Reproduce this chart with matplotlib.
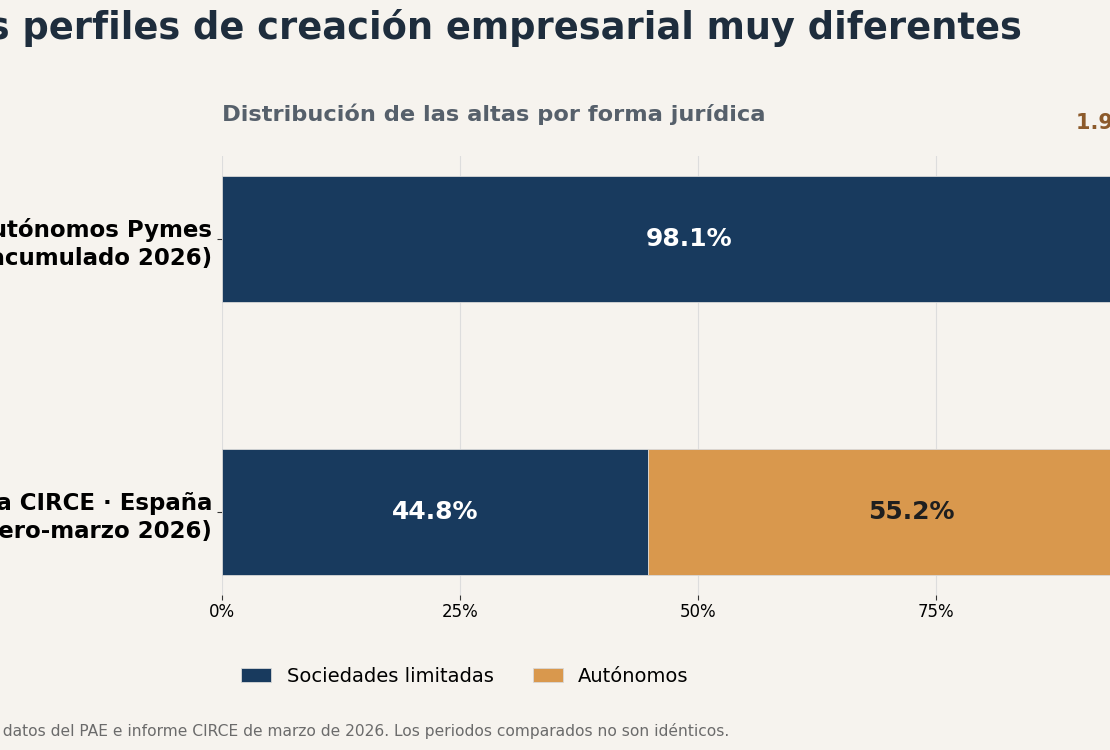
import matplotlib
matplotlib.use("Agg")
import matplotlib.pyplot as plt
import numpy as np

# --- DATOS ---
categorias = ["Autónomos Pymes\n(acumulado 2026)", "Muestra CIRCE · España\n(enero-marzo 2026)"]
sociedades = [98.1, 44.8]
autonomos = [1.9, 55.2]
ticks_x = [0, 25, 50, 75, 100]

BG = "#F6F3EE"
NAVY = "#183A5E"
ORANGE = "#D9984D"

fig = plt.figure(figsize=(11.1, 7.5), dpi=100, facecolor=BG)
ax = fig.add_axes([222 / 1110, 1 - 595 / 750, 952 / 1110, 439 / 750])
ax.set_facecolor(BG)

y = np.arange(len(categorias))
b1 = ax.barh(y, sociedades, height=0.46, color=NAVY, edgecolor="#d8d8d8",
             linewidth=0.6, label="Sociedades limitadas")
b2 = ax.barh(y, autonomos, left=sociedades, height=0.46, color=ORANGE,
             edgecolor="#d8d8d8", linewidth=0.6, label="Autónomos")
ax.invert_yaxis()
ax.set_xlim(0, 100)

# etiquetas dentro de las barras
for i in range(len(categorias)):
    ax.text(sociedades[i] / 2, y[i], f"{sociedades[i]:.1f}%", ha="center", va="center",
            color="white", fontsize=18, fontweight="bold")
    if autonomos[i] > 5:
        ax.text(sociedades[i] + autonomos[i] / 2, y[i], f"{autonomos[i]:.1f}%",
                ha="center", va="center", color="#1f1f1f", fontsize=18, fontweight="bold")
    else:
        # segmento demasiado estrecho: etiqueta encima de la barra
        ax.text(sociedades[i] + autonomos[i], y[i] - 0.425, f"{autonomos[i]:.1f}% autónomos",
                ha="center", va="center", color="#8C5A2B", fontsize=15,
                fontweight="bold", clip_on=False)

ax.set_yticks(y)
ax.set_yticklabels(categorias, fontsize=16.5, fontweight="bold", linespacing=1.27)
ax.set_xticks(ticks_x)
ax.set_xticklabels([f"{t}%" for t in ticks_x], fontsize=12)
ax.grid(axis="x", color="#dddddd", linewidth=0.8)
ax.set_axisbelow(True)
for s in ax.spines.values():
    s.set_visible(False)
ax.tick_params(colors="#333333", labelcolor="black")
ax.tick_params(axis="x", pad=2.5)

fig.text(1022 / 1110, 1 - 28 / 750, "Dos perfiles de creación empresarial muy diferentes",
         ha="right", va="center", fontsize=26.5, fontweight="bold", color="#1E2D3D")
ax.set_title("Distribución de las altas por forma jurídica", loc="left", fontsize=16.2,
             fontweight="bold", color="#56606B", pad=25)

fig.legend(handles=[b1, b2], loc="center", bbox_to_anchor=(465 / 1110, 1 - 676 / 750),
           ncol=2, frameon=False, fontsize=14, handlelength=1.55, handleheight=0.75,
           columnspacing=2.0, handletextpad=0.8)

fig.text(729 / 1110, 1 - 731 / 750,
         "Fuente: elaboración propia con datos del PAE e informe CIRCE de marzo de 2026. "
         "Los periodos comparados no son idénticos.",
         ha="right", va="center", fontsize=11.2, color="#6b6b6b")

fig.savefig("out.png", dpi=100, facecolor=BG)
